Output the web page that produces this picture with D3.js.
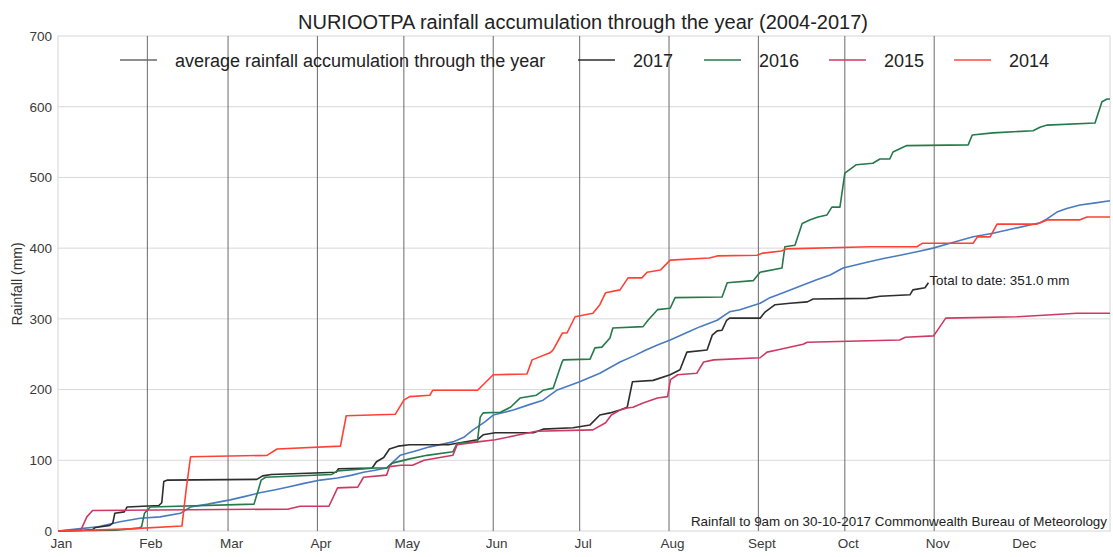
<!DOCTYPE html>
<html>
<head>
<meta charset="utf-8">
<script src="https://cdn.jsdelivr.net/npm/d3@7/dist/d3.min.js"></script>
<style>
  html, body { margin: 0; padding: 0; background: #fff; }
  svg { display: block; font-family: "Liberation Sans", Arial, sans-serif; }
</style>
</head>
<body>
<svg id="chart" width="1113" height="557"></svg>
<script>
// ---- Data (day of year, accumulated rainfall in mm) ----
const monthLabels = ["Jan","Feb","Mar","Apr","May","Jun","Jul","Aug","Sept","Oct","Nov","Dec"];
const monthStartDays = [0,31,59,90,120,151,181,212,243,273,304,334];
const monthLineDays = [31,59,90,120,151,181,212,243,273,304];
const yTicks = [0,100,200,300,400,500,600,700];

const seriesNames = ["average rainfall accumulation through the year","2017","2016","2015","2014"];

const averageData = [[0,0],[7,3],[14,6],[21.5,13],[28.5,18],[35.4,20],[42.5,25],[46,34],[52,38],[59.7,44],[65,49],[70,54],[75,58],[79.5,62],[85,67],[91,72],[97,75],[102,79],[106,83],[110,86],[114,89],[118.7,107],[124,113],[129,119],[137,126],[141,133],[144,143],[148,154],[151,164],[158,171],[163,178],[168.3,185],[173,199],[177,205],[181,211],[188,223],[195,239],[200,248],[204,256],[208,263],[212.4,270],[219,282],[222.8,289],[228.7,298],[233,310],[236.6,313],[243.6,322],[247,330],[251.6,337],[258.5,348],[263,355],[267.9,362],[272.4,372],[280.7,380],[286,385],[292.2,390],[298,395],[303.6,400],[309.5,407],[317.5,416],[324.4,421],[332,428],[340.7,436],[343,441],[346.6,451],[350,456],[354.6,461],[360,464],[365,467]];

const data2017 = [[0,0],[9,1],[12,2],[13,5],[18,8],[19,11],[19.7,25],[23,27],[24,34],[35,36],[36,40],[36.7,70],[38,72],[69,73],[71,78],[74,80],[96.5,83],[97.3,88],[109,89],[110.5,98],[113,104],[115,116],[118,120],[122,122],[135.5,122],[138.5,124],[145.5,129],[147.5,136],[151.7,139],[165,139],[168.3,144],[178.7,146],[184.6,150],[188,164],[191.5,167],[195,171],[197.5,175],[199.3,211],[206.5,213],[212.4,221],[215.8,228],[218.2,253],[225.2,256],[227,277],[228.7,283],[230.4,284],[232,298],[233,301],[243.6,301],[245.4,310],[248.8,320],[254,322],[260,324],[262,328],[280.8,329],[285.2,332],[295.6,334],[296.6,341],[300.8,344],[302,351]];

const data2016 = [[0,0],[20,1],[28,4],[29,6],[30,25],[32,34],[68,38],[69.5,58],[70.5,72],[72,76],[95,80],[97,85],[110,89],[114,89],[116,96],[122,102],[128,107],[137,112],[138.5,124],[145.5,126],[146.5,161],[147.5,167],[153.5,168],[157,175],[160.3,188],[166,192],[168.3,199],[171.8,202],[174.8,238],[175.3,242],[184.6,243],[186.3,259],[188.7,260],[191.5,273],[192.5,287],[203,289],[204.7,298],[208,313],[212.4,315],[214.1,330],[230.4,331],[232.2,351],[241.2,354],[243.6,366],[251.2,372],[252.2,402],[255.7,404],[258.2,435],[261,440],[263.7,444],[266.8,447],[268.5,458],[271.3,458],[273,506],[277,518],[282.7,520],[285.2,526],[288.6,526],[289.7,536],[292.8,542],[294.5,545],[315.8,546],[317.2,560],[324.4,563],[338.3,566],[340.7,571],[343.2,574],[359.8,577],[362.2,607],[364,611],[365,611]];

const data2015 = [[0,0],[8,2],[10,20],[12,29],[80,31],[84,35],[94,35],[97,61],[104,62],[106,76],[114,79],[115,91],[119,93],[123,93],[127,100],[137,107],[138.5,122],[145.6,126],[151.7,129],[160,136],[166,141],[185.6,143],[190,153],[192,164],[195,171],[197.5,174],[199.5,175],[203,181],[208,188],[211.5,190],[212.5,214],[215,221],[221.6,223],[224,239],[227.5,242],[243.6,245],[246,253],[249.5,256],[258.5,264],[260,267],[292,270],[294,274],[303.8,276],[305,283],[308,301],[333,303],[353.5,308],[365,308]];

const data2014 = [[0,0],[10,1],[25,3],[43,7],[44.5,60],[46,105],[72.5,107],[76,116],[98,120],[100,163],[117,165],[120,185],[122,190],[129,192],[130,199],[145.6,199],[151,221],[162.7,222],[164.5,242],[170.7,252],[171.8,256],[175,280],[176.6,280],[179.4,303],[185.6,308],[188,320],[190,337],[195,341],[197.8,358],[202.6,358],[204.4,366],[209,369],[212.4,383],[226,386],[228.7,389],[242.5,390],[244.6,393],[251,396],[253,399],[281.7,402],[298,402],[300,407],[317.5,407],[319,416],[323.4,416],[325.8,434],[339.7,434],[343.5,440],[354.6,440],[357,444],[365,444]];

const seriesData = [averageData, data2017, data2016, data2015, data2014];
const lineColors = ["#4a7bbf", "#2d2d2d", "#26794b", "#cc3a62", "#ff4136"];
const legendColors = ["#6a6a6a", "#2d2d2d", "#26794b", "#cc3a62", "#ff4a40"];

// ---- Layout ----
const svg = d3.select("#chart");
const L = 58, R = 1110, T = 36, B = 531;

const x = d3.scaleLinear().domain([0, 365]).range([L, R]);
const y = d3.scaleLinear().domain([0, 700]).range([B, T]);

// background frame
svg.append("rect").attr("x", L).attr("y", T).attr("width", R - L).attr("height", B - T)
  .attr("fill", "#fff").attr("stroke", "#d6d6d6").attr("stroke-width", 1);

// horizontal grid
svg.append("g").selectAll("line").data(yTicks.filter(v => v > 0 && v < 700)).join("line")
  .attr("x1", L).attr("x2", R).attr("y1", d => y(d)).attr("y2", d => y(d))
  .attr("stroke", "#d9d9d9").attr("stroke-width", 1);

// month boundary lines
svg.append("g").selectAll("line").data(monthLineDays).join("line")
  .attr("x1", d => x(d)).attr("x2", d => x(d)).attr("y1", T).attr("y2", B)
  .attr("stroke", "#6a6a6a").attr("stroke-width", 1);

// y axis
const yAxis = d3.axisLeft(y).tickValues(yTicks).tickSize(0).tickPadding(6).tickFormat(d3.format("d"));
const gy = svg.append("g").attr("transform", `translate(${L},0)`).call(yAxis);
gy.select(".domain").remove();
gy.selectAll("text").attr("font-size", 13.5).attr("fill", "#3a3a3a").attr("font-family", "Liberation Sans, Arial, sans-serif");

// x axis
const xAxis = d3.axisBottom(x).tickValues(monthStartDays).tickSize(0).tickPadding(7)
  .tickFormat((d, i) => monthLabels[i]);
const gx = svg.append("g").attr("transform", `translate(0,${B})`).call(xAxis);
gx.select(".domain").remove();
gx.selectAll("text").attr("font-size", 13.5).attr("fill", "#3a3a3a").attr("dx", 3).attr("font-family", "Liberation Sans, Arial, sans-serif");

// y label
svg.append("text").attr("transform", "translate(22,284) rotate(-90)")
  .attr("text-anchor", "middle").attr("font-size", 14).attr("fill", "#333")
  .text("Rainfall (mm)");

// lines
const line = d3.line().x(d => x(d[0])).y(d => y(d[1]));
svg.append("g").selectAll("path").data(seriesData).join("path")
  .attr("d", d => line(d))
  .attr("fill", "none")
  .attr("stroke", (d, i) => lineColors[i])
  .attr("stroke-width", 1.6)
  .attr("stroke-linejoin", "round");

// title
svg.append("text").attr("x", 583).attr("y", 29).attr("text-anchor", "middle")
  .attr("font-size", 20).attr("fill", "#222")
  .text("NURIOOTPA rainfall accumulation through the year (2004-2017)");

// legend
const legendX = [120, 578, 704, 829, 954];
const lg = svg.append("g").selectAll("g").data(seriesNames).join("g")
  .attr("transform", (d, i) => `translate(${legendX[i]},60)`);
lg.append("line").attr("x1", 0).attr("x2", 37).attr("y1", 0).attr("y2", 0)
  .attr("stroke", (d, i) => legendColors[i]).attr("stroke-width", 1.6);
lg.append("text").attr("x", 55).attr("y", 6.5).attr("font-size", 18).attr("fill", "#222")
  .text(d => d);

// annotations
const last2017 = data2017[data2017.length - 1];
svg.append("text").attr("x", x(last2017[0]) + 1).attr("y", y(last2017[1]) + 2)
  .attr("font-size", 13.4).attr("fill", "#222")
  .text("Total to date: " + last2017[1].toFixed(1) + " mm");

svg.append("text").attr("x", 1107).attr("y", 526).attr("text-anchor", "end")
  .attr("font-size", 13.4).attr("fill", "#222")
  .text("Rainfall to 9am on 30-10-2017 Commonwealth Bureau of Meteorology");
</script>
</body>
</html>
